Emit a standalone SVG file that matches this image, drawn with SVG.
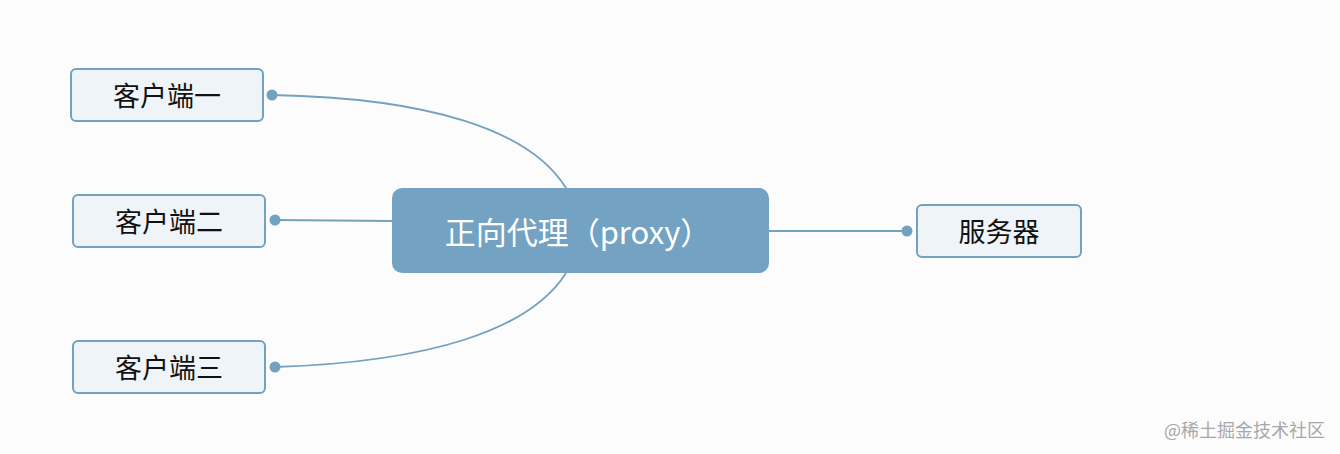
<svg xmlns="http://www.w3.org/2000/svg" width="1340" height="454" viewBox="0 0 1340 454">
<style>
.leaf{fill:#eff4f8;stroke:#73a1c0;stroke-width:2}
.lt{font-family:"Noto Sans CJK SC","Noto Sans",sans-serif;font-size:27px;fill:#111;text-anchor:middle;dominant-baseline:central}
.conn{fill:none;stroke:#73a1c0;stroke-width:1.8}
.dot{fill:#73a1c0}
</style>
<rect width="1340" height="454" fill="#fcfcfc"/>
<g id="connectors">
<path class="conn" d="M272,95 C430,98 530,130 566,188"/>
<path class="conn" d="M275,220 L392,221"/>
<path class="conn" d="M275,367 C430,362 530,330 566,273"/>
<path class="conn" d="M769,231 L907,231"/>
<circle class="dot" cx="272" cy="95" r="5.5"/>
<circle class="dot" cx="275" cy="220" r="5.5"/>
<circle class="dot" cx="275" cy="367" r="5.5"/>
<circle class="dot" cx="907" cy="231" r="5.5"/>
</g>
<g id="center">
<rect x="392" y="188" width="377" height="85" rx="10" fill="#74a2c2"/>
<text x="578" y="230" font-family="'Noto Sans CJK SC','Noto Sans',sans-serif" font-size="31" fill="#ffffff" text-anchor="middle" dominant-baseline="central">正向代理（proxy）</text>
</g>
<g id="client1">
<rect class="leaf" x="71" y="69" width="192" height="52" rx="5"/>
<text class="lt" x="167" y="94">客户端一</text>
</g>
<g id="client2">
<rect class="leaf" x="73" y="195" width="192" height="52" rx="5"/>
<text class="lt" x="169" y="220">客户端二</text>
</g>
<g id="client3">
<rect class="leaf" x="73" y="341" width="192" height="52" rx="5"/>
<text class="lt" x="169" y="366">客户端三</text>
</g>
<g id="server">
<rect class="leaf" x="917" y="205" width="164" height="52" rx="5"/>
<text class="lt" x="999" y="230">服务器</text>
</g>
<text x="1325" y="429" font-family="'Noto Sans CJK SC',sans-serif" font-size="18" fill="#a8a8a8" text-anchor="end" dominant-baseline="central">@稀土掘金技术社区</text>
</svg>
